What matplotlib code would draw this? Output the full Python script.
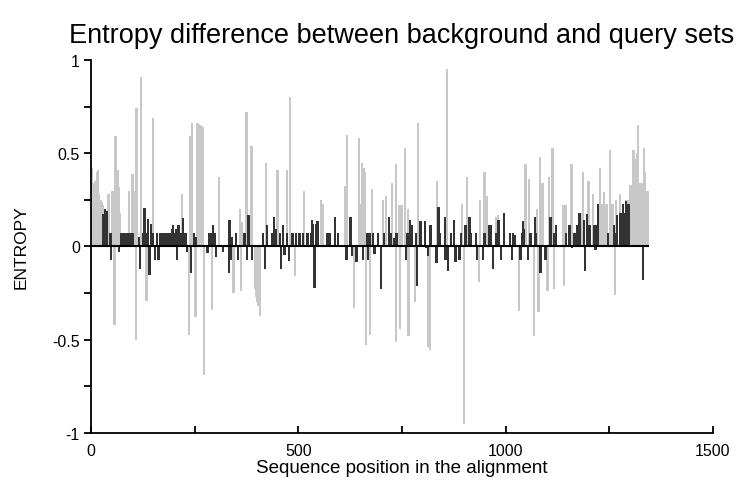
import matplotlib
matplotlib.use("Agg")
import matplotlib.pyplot as plt
from matplotlib.ticker import FixedLocator

plt.rcParams["font.family"] = ["Liberation Sans", "DejaVu Sans"]

# light grey bars (positive side): position, entropy difference
light_pos = [2, 5, 8, 11, 14, 17, 20, 23, 26, 29, 42, 51, 55, 59, 64, 67, 70,
             92, 100, 104, 110, 121, 150, 219, 239, 243, 256, 259, 262, 265,
             268, 271, 309, 359, 365, 375, 387, 422, 450, 472, 480, 514, 554,
             560, 613, 618, 646, 651, 654, 658, 661, 678, 705, 711, 726, 736,
             744, 749, 758, 765, 789, 834, 859, 895, 907, 939, 949, 955, 976,
             982, 1048, 1057, 1075, 1083, 1089, 1105, 1113, 1139, 1144, 1159,
             1178, 1182, 1186, 1200, 1210, 1223, 1227, 1231, 1237, 1241, 1245,
             1251, 1255, 1259, 1266, 1276, 1290, 1296, 1300, 1304, 1308, 1311,
             1314, 1317, 1320, 1323, 1327, 1330, 1333, 1336, 1339, 1343]
light_val = [0.42, 0.34, 0.30, 0.35, 0.40, 0.41, 0.28, 0.25, 0.24, 0.22, 0.28,
             0.30, 0.30, 0.59, 0.41, 0.32, 0.18, 0.30, 0.39, 0.30, 0.74, 0.91,
             0.69, 0.28, 0.59, 0.66, 0.66, 0.655, 0.65, 0.648, 0.645, 0.64,
             0.37, 0.20, 0.13, 0.72, 0.54, 0.45, 0.41, 0.41, 0.80, 0.30, 0.25,
             0.23, 0.325, 0.60, 0.58, 0.23, 0.45, 0.42, 0.40, 0.31, 0.25, 0.27,
             0.34, 0.44, 0.22, 0.22, 0.53, 0.20, 0.66, 0.35, 0.95, 0.23, 0.375,
             0.25, 0.40, 0.27, 0.16, 0.17, 0.44, 0.36, 0.20, 0.48, 0.34, 0.37,
             0.53, 0.22, 0.22, 0.44, 0.18, 0.18, 0.40, 0.35, 0.28, 0.23, 0.42,
             0.23, 0.29, 0.23, 0.23, 0.52, 0.23, 0.23, 0.25, 0.28, 0.25, 0.25,
             0.33, 0.33, 0.52, 0.47, 0.47, 0.50, 0.65, 0.34, 0.34, 0.34, 0.53,
             0.40, 0.30, 0.30]

# light grey bars (negative side)
light_neg_pos = [57, 109, 134, 236, 252, 273, 291, 344, 361, 395, 398, 401,
                 404, 408, 492, 634, 663, 673, 736, 745, 766, 781, 814, 818,
                 899, 936, 1033, 1069, 1079, 1101, 1116, 1141, 1264]
light_neg_val = [-0.42, -0.50, -0.29, -0.475, -0.38, -0.69, -0.34, -0.25,
                 -0.24, -0.23, -0.27, -0.30, -0.32, -0.37, -0.16, -0.33, -0.53,
                 -0.475, -0.51, -0.44, -0.48, -0.30, -0.54, -0.555, -0.95,
                 -0.19, -0.345, -0.48, -0.35, -0.24, -0.23, -0.21, -0.26]

# dark bars
dark_pos = [29, 33, 38, 47, 49, 68, 73, 77, 81, 85, 89, 93, 97, 101, 115, 119,
            125, 129, 133, 137, 141, 144, 150, 155, 159, 163, 168, 172, 176,
            180, 184, 188, 192, 195, 198, 202, 205, 207, 211, 215, 219, 222,
            226, 230, 232, 242, 248, 252, 281, 286, 290, 294, 298, 302, 318,
            332, 334, 337, 340, 350, 354, 370, 377, 380, 388, 414, 419, 425,
            436, 441, 445, 455, 458, 463, 467, 473, 478, 486, 495, 503, 511,
            522, 530, 533, 536, 539, 542, 546, 570, 575, 589, 596, 616, 626,
            630, 640, 656, 665, 668, 672, 680, 684, 692, 700, 707, 718, 722,
            730, 737, 759, 763, 769, 774, 783, 787, 795, 806, 809, 813, 819,
            833, 838, 842, 853, 855, 861, 869, 875, 879, 889, 893, 903, 913,
            917, 929, 931, 945, 949, 961, 965, 969, 977, 983, 988, 996, 1010,
            1015, 1017, 1023, 1036, 1039, 1042, 1045, 1054, 1060, 1070, 1074,
            1084, 1096, 1108, 1118, 1122, 1146, 1154, 1160, 1166, 1169, 1173,
            1178, 1189, 1192, 1197, 1202, 1213, 1217, 1219, 1222, 1247, 1261,
            1264, 1269, 1277, 1283, 1287, 1291, 1296, 1331]
dark_val = [0.175, 0.20, 0.19, 0.07, -0.07, -0.03, 0.07, 0.07, 0.07, 0.07,
            0.07, 0.07, 0.07, 0.07, 0.05, -0.12, 0.07, 0.205, 0.07, 0.15,
            -0.155, 0.12, 0.07, -0.07, 0.07, -0.07, 0.07, 0.07, 0.07, 0.07,
            0.07, 0.07, 0.07, 0.095, 0.115, 0.07, 0.095, -0.07, 0.115, 0.07,
            0.07, 0.155, 0.07, 0.07, -0.03, -0.14, 0.07, 0.05, -0.035, 0.07,
            0.07, 0.115, 0.07, -0.055, -0.03, -0.14, 0.14, -0.07, 0.05, 0.07,
            -0.07, 0.07, -0.07, 0.17, -0.07, 0.07, -0.12, 0.115, 0.07, 0.16,
            0.095, 0.07, -0.12, 0.115, -0.045, 0.07, -0.08, 0.07, 0.07, 0.07,
            0.07, 0.07, 0.07, 0.14, 0.12, -0.22, 0.12, 0.135, 0.07, 0.07, 0.16,
            0.07, -0.07, 0.16, -0.05, -0.085, -0.07, 0.07, -0.075, 0.07, 0.07,
            -0.04, 0.07, -0.23, 0.07, 0.16, 0.07, 0.045, 0.07, -0.07, 0.07,
            0.14, 0.115, 0.07, -0.21, 0.135, 0.135, -0.01, -0.05, 0.115, -0.09,
            0.21, 0.07, 0.16, -0.07, -0.13, 0.07, 0.14, -0.085, -0.07, 0.07,
            0.115, 0.16, 0.07, 0.07, -0.07, -0.07, 0.07, 0.115, 0.115, -0.12,
            0.07, 0.14, -0.07, 0.18, 0.07, -0.07, 0.07, 0.06, -0.07, 0.07,
            0.135, 0.095, -0.07, 0.07, 0.16, 0.07, -0.14, -0.07, 0.16, 0.07,
            0.115, 0.07, 0.115, -0.01, 0.07, 0.05, 0.115, 0.18, 0.14, -0.13,
            0.175, 0.115, 0.115, -0.02, 0.115, 0.23, 0.07, 0.115, 0.07, 0.17,
            0.18, 0.23, 0.18, 0.245, 0.23, -0.18]

x_ticks = [0, 500, 1000, 1500]
x_minor = [250, 750, 1250]
y_ticks = [-1, -0.5, 0, 0.5, 1]
y_labels = ["-1", "-0.5", "0", "0.5", "1"]
y_minor = [-0.75, -0.25, 0.25, 0.75]

light = "#c8c8c8"
dark = "#333333"

fig = plt.figure(figsize=(7.39, 4.81), dpi=100)
ax = fig.add_axes([0.1231, 0.0977, 0.8417, 0.7755])

ax.bar(light_pos, light_val, width=5.5, color=light, linewidth=0)
ax.bar(light_neg_pos, light_neg_val, width=5.5, color=light, linewidth=0)
ax.bar(dark_pos, dark_val, width=5.5, color=dark, linewidth=0)

# zero line spans the aligned positions only
ax.hlines(0, 0, max(light_pos) + 2, color="black", linewidth=1.5)

ax.set_xlim(0, 1500)
ax.set_ylim(-1, 1)
for s in ["top", "right"]:
    ax.spines[s].set_visible(False)
for s in ["left", "bottom"]:
    ax.spines[s].set_linewidth(1.3)

ax.set_xticks(x_ticks)
ax.set_xticklabels([str(t) for t in x_ticks])
ax.xaxis.set_minor_locator(FixedLocator(x_minor))
ax.set_yticks(y_ticks)
ax.set_yticklabels(y_labels)
ax.yaxis.set_minor_locator(FixedLocator(y_minor))

ax.tick_params(axis="x", which="both", direction="in", length=5, width=1.3,
               labelsize=11.5, pad=7)
ax.tick_params(axis="y", which="both", direction="out", length=5, width=1.3,
               labelsize=11.5, pad=3)

ax.set_title("Entropy difference between background and query sets",
             fontsize=19.5, pad=13)
ax.set_xlabel("Sequence position in the alignment", fontsize=13.5, labelpad=1)
ax.set_ylabel("ENTROPY", fontsize=12.5, labelpad=17)

plt.savefig("out.png", dpi=100)
